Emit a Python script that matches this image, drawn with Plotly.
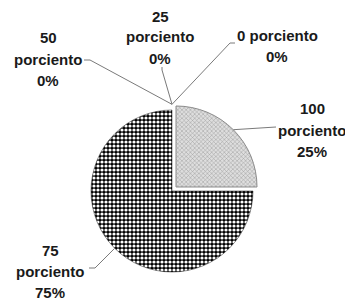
import math
import plotly.graph_objects as go

# ---- data ----
categories = ["100 porciento", "75 porciento", "50 porciento", "25 porciento", "0 porciento"]
values = [25, 75, 0, 0, 0]

# ---- layout constants (screen pixels) ----
OFF = 8                      # default page body margin
W, H = 353 - OFF, 300 - OFF  # figure size so it fills the window
CX, CY, R = 172, 191, 81
PULL = 0.07
pulls = [PULL, 0, PULL, PULL, PULL]
LINE_GAP = 21

# label text centers and leader-line end points (layout)
label_pos = {
    "100 porciento": (312, 130),
    "75 porciento": (50, 271),
    "50 porciento": (48, 59),
    "25 porciento": (160, 37),
    "0 porciento": (277, 46),
}
line_ends = {
    "100 porciento": [(276, 127)],
    "75 porciento": [(95, 268), (89, 268)],
    "50 porciento": [(90, 60), (84, 60)],
    "25 porciento": [(162, 70), (162, 67)],
    "0 porciento": [(230, 43), (235, 43)],
}


def px(x):
    return (x - OFF) / W


def py(y):
    return 1 - (y - OFF) / H


Rdom = R * (1 + PULL)
dom_x = [px(CX - Rdom), px(CX + Rdom)]
dom_y = [py(CY + Rdom), py(CY - Rdom)]

fig = go.Figure(go.Pie(
    labels=categories,
    values=values,
    sort=False,
    direction="clockwise",
    rotation=0,
    pull=pulls,
    textinfo="none",
    hoverinfo="none",
    showlegend=False,
    domain=dict(x=dom_x, y=dom_y),
    marker=dict(
        colors=["#d0d0d0", "#000000", "#ffffff", "#ffffff", "#ffffff"],
        line=dict(color=["#8a8a8a", "#222222", "#ffffff", "#ffffff", "#ffffff"], width=[1, 0.5, 0, 0, 0]),
        pattern=dict(
            shape=["x", ".", "", "", ""],
            fgcolor=["#9a9a9a", "#ffffff", "#000", "#000", "#000"],
            bgcolor=["#dedede", "#000000", "#fff", "#fff", "#fff"],
            size=[3, 4, 4, 4, 4],
            solidity=[0.3, 0.5, 0.3, 0.3, 0.3],
            fillmode="replace",
        ),
    ),
))

total = sum(values)
cum = 0
shapes = []
annotations = []
for cat, v, p in zip(categories, values, pulls):
    theta = 2 * math.pi * (cum + v / 2) / total
    cum += v
    rr = R * (1 + p)
    ax_px = CX + rr * math.sin(theta)
    ay_px = CY - rr * math.cos(theta)
    pts = [(ax_px, ay_px)] + line_ends[cat]
    path = "M " + " L ".join(f"{px(x)},{py(y)}" for x, y in pts)
    shapes.append(dict(type="path", xref="paper", yref="paper", path=path,
                       line=dict(color="#7a7a7a", width=1)))
    pct = round(100 * v / total)
    num, word = cat.split(" ")
    if cat == "0 porciento":
        lines = [cat, f"{pct}%"]
    else:
        lines = [num, word, f"{pct}%"]
    tx, ty = label_pos[cat]
    n = len(lines)
    for k, ln in enumerate(lines):
        ly = ty + (k - (n - 1) / 2) * LINE_GAP
        annotations.append(dict(x=px(tx), y=py(ly), xref="paper", yref="paper",
                                text=f"<b>{ln}</b>", showarrow=False, align="center",
                                xanchor="center", yanchor="middle",
                                font=dict(family="Liberation Sans, Arial", size=15, color="#1a1a1a")))

fig.update_layout(
    width=W, height=H,
    margin=dict(l=0, r=0, t=0, b=0),
    paper_bgcolor="white", plot_bgcolor="white",
    shapes=shapes, annotations=annotations,
)
fig.write_html("out.html")
